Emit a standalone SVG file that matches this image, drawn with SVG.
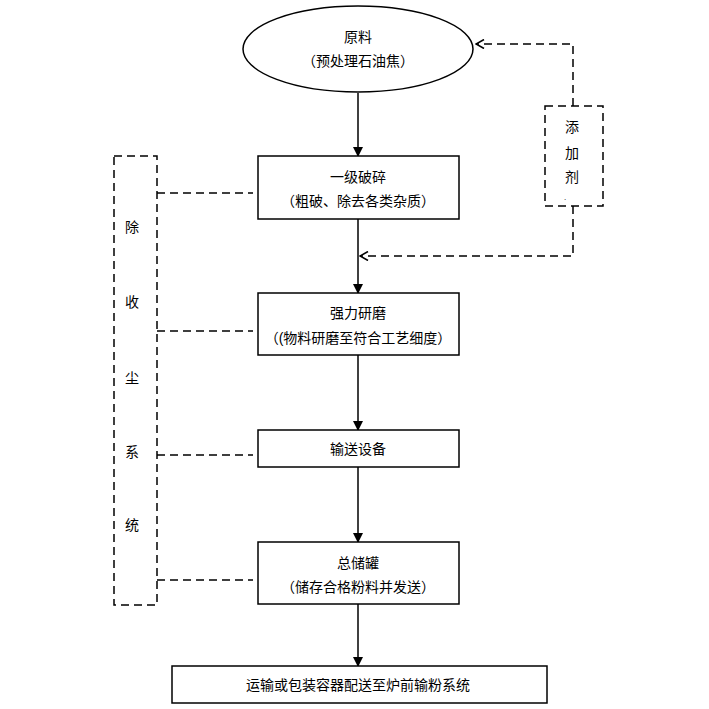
<svg xmlns="http://www.w3.org/2000/svg" width="709" height="709" viewBox="0 0 709 709">
<defs>
<marker id="fill" markerWidth="10" markerHeight="12" refX="9" refY="5" orient="auto" markerUnits="userSpaceOnUse" viewBox="0 0 10 10">
<path d="M0,0 L10,5 L0,10 Z" fill="#000"/>
</marker>
<marker id="open" markerWidth="10" markerHeight="10" refX="9" refY="5" orient="auto" markerUnits="userSpaceOnUse" viewBox="0 0 10 10">
<path d="M1,0.5 L9,5 L1,9.5" fill="none" stroke="#000" stroke-width="1.6"/>
</marker>
</defs>
<style>
.box{fill:#fff;stroke:#000;stroke-width:1.5}
.dbox{fill:none;stroke:#000;stroke-width:1.5;stroke-dasharray:8,5}
.solid{fill:none;stroke:#000;stroke-width:1.5}
.dash{fill:none;stroke:#000;stroke-width:1.5;stroke-dasharray:8,5}
text{font-family:"Liberation Sans","Noto Sans CJK SC",sans-serif;font-size:14px;fill:#000;text-anchor:middle}
</style>
<rect width="709" height="709" fill="#fff"/>
<g id="connectors">
<line class="solid" x1="358" y1="93" x2="358" y2="156" marker-end="url(#fill)"/>
<line class="solid" x1="358" y1="219" x2="358" y2="293" marker-end="url(#fill)"/>
<line class="solid" x1="358" y1="355" x2="358" y2="430" marker-end="url(#fill)"/>
<line class="solid" x1="358" y1="467" x2="358" y2="542" marker-end="url(#fill)"/>
<line class="solid" x1="358" y1="604" x2="358" y2="666" marker-end="url(#fill)"/>
<polyline class="dash" points="573,106 573,44 476,44" marker-end="url(#open)"/>
<polyline class="dash" points="573,206 573,256 360,256" marker-end="url(#open)"/>
<line class="dash" x1="157" y1="193" x2="253" y2="193"/>
<line class="dash" x1="157" y1="331" x2="253" y2="331"/>
<line class="dash" x1="157" y1="455" x2="253" y2="455"/>
<line class="dash" x1="157" y1="580" x2="253" y2="580"/>
</g>
<g id="raw">
<ellipse class="box" cx="358" cy="49" rx="115" ry="43"/>
<text x="358" y="42">原料</text>
<text x="358" y="66">（预处理石油焦）</text>
</g>
<g id="crush">
<rect class="box" x="258" y="156" width="201" height="63"/>
<text x="358" y="182">一级破碎</text>
<text x="358" y="206">（粗破、除去各类杂质）</text>
</g>
<g id="grind">
<rect class="box" x="258" y="293" width="201" height="62"/>
<text x="358" y="318">强力研磨</text>
<text x="358" y="343">（(物料研磨至符合工艺细度）</text>
</g>
<g id="convey">
<rect class="box" x="258" y="430" width="201" height="37"/>
<text x="358" y="454">输送设备</text>
</g>
<g id="tank">
<rect class="box" x="258" y="542" width="201" height="62"/>
<text x="358" y="568">总储罐</text>
<text x="358" y="592">（储存合格粉料并发送）</text>
</g>
<g id="deliver">
<rect class="box" x="172" y="666" width="375" height="37"/>
<text x="358" y="690">运输或包装容器配送至炉前输粉系统</text>
</g>
<g id="dust">
<rect class="dbox" x="114" y="156" width="43" height="449"/>
<text x="132" y="232">除</text>
<text x="132" y="307">收</text>
<text x="132" y="383">尘</text>
<text x="132" y="457">系</text>
<text x="132" y="530">统</text>
</g>
<g id="additive">
<rect class="dbox" x="545" y="106" width="58" height="100"/>
<text x="572" y="132">添</text>
<text x="572" y="158">加</text>
<text x="572" y="182">剂</text>
<text x="565" y="200" style="font-size:8px">.</text>
</g>
</svg>
